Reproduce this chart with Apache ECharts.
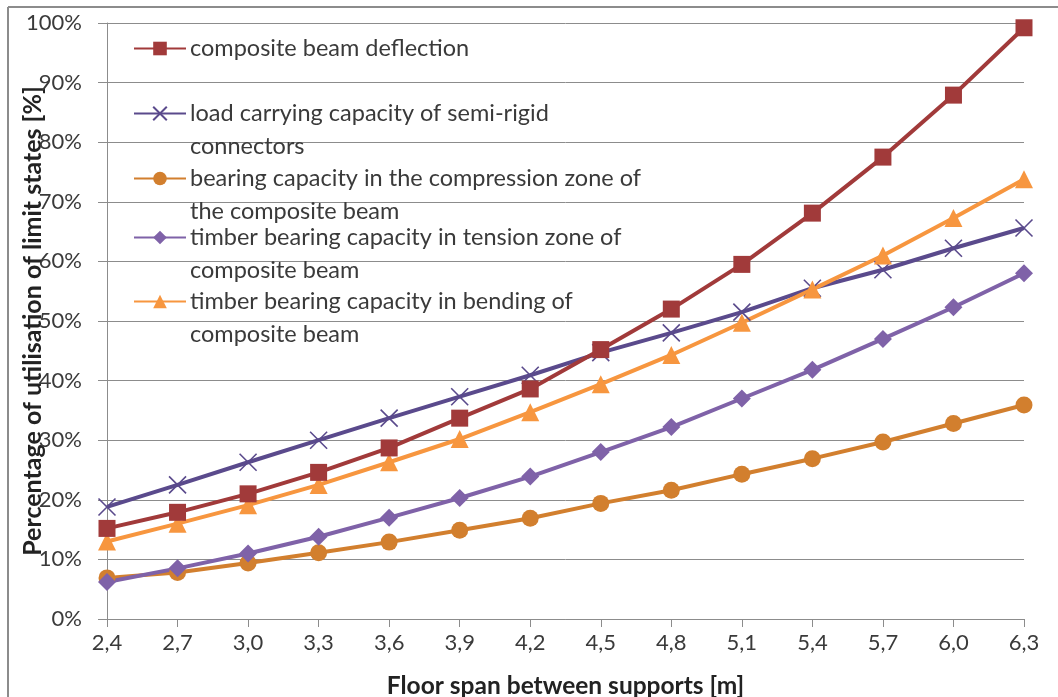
<!DOCTYPE html>
<html>
<head>
<meta charset="utf-8">
<script src="https://cdn.jsdelivr.net/npm/echarts@6/dist/echarts.min.js"></script>
<style>html,body{margin:0;padding:0;background:#fff;}#c{width:1058px;height:697px;}</style>
</head>
<body>
<div id="c"></div>
<script>
var spans = ['2,4','2,7','3,0','3,3','3,6','3,9','4,2','4,5','4,8','5,1','5,4','5,7','6,0','6,3'];
var deflection = [15.2, 17.9, 21.0, 24.6, 28.7, 33.7, 38.6, 45.2, 52.0, 59.5, 68.1, 77.5, 87.9, 99.2];
var connectors = [18.8, 22.5, 26.3, 30.0, 33.7, 37.3, 40.9, 44.7, 48.0, 51.5, 55.5, 58.6, 62.2, 65.6];
var compression = [6.9, 7.8, 9.4, 11.1, 12.9, 14.9, 16.9, 19.4, 21.6, 24.3, 26.9, 29.7, 32.8, 35.9];
var tension = [6.2, 8.5, 11.0, 13.8, 17.0, 20.3, 23.9, 28.0, 32.2, 37.0, 41.8, 47.0, 52.3, 58.0];
var bending = [13.0, 16.0, 19.1, 22.5, 26.3, 30.2, 34.7, 39.4, 44.3, 49.7, 55.3, 61.0, 67.3, 73.8];
var yTicks = [0, 10, 20, 30, 40, 50, 60, 70, 80, 90, 100];
var names = [
  'composite beam deflection',
  'load carrying capacity of semi-rigid\nconnectors',
  'bearing capacity in the compression zone of\nthe composite beam',
  'timber bearing capacity in tension zone of\ncomposite beam',
  'timber bearing capacity in bending of\ncomposite beam'
];
var colors = ['#a13a3a', '#5a4a8c', '#d27f2e', '#7f62a8', '#f7963f'];

var FONT = 'Lato';
var chart = echarts.init(document.getElementById('c'), null, {renderer: 'canvas'});
var xPath = 'path://M0,0L10,10M10,0L0,10';

function legendFor(i, top, multi) {
  return {
    data: [names[i]],
    left: 133,
    top: top,
    padding: 0,
    itemWidth: 52,
    itemHeight: 17,
    itemGap: 0,
    formatter: function (n) { return multi ? '\n' + n : n; },
    textStyle: {
      fontFamily: FONT, fontSize: 23.5, color: '#3a3a3a', lineHeight: 33,
      padding: [0, 0, 0, -1]
    }
  };
}

var option = {
  animation: false,
  backgroundColor: '#fff',
  color: colors,
  graphic: [
    {type: 'line', shape: {x1: 8, y1: 7, x2: 8, y2: 697}, style: {stroke: '#8c8c8c', lineWidth: 2}},
    {type: 'line', shape: {x1: 8, y1: 7, x2: 1058, y2: 7}, style: {stroke: '#8c8c8c', lineWidth: 2}}
  ],
  grid: {left: 107, right: 34, top: 23, bottom: 78, containLabel: false, outerBoundsMode: 'none'},
  legend: [
    legendFor(0, 32, false),
    legendFor(1, 64, true),
    legendFor(2, 129, true),
    legendFor(3, 188, true),
    legendFor(4, 252, true)
  ],
  xAxis: {
    type: 'category',
    data: spans,
    boundaryGap: false,
    name: 'Floor span between supports [m]',
    nameLocation: 'middle',
    nameGap: 55,
    nameMoveOverlap: false,
    nameTextStyle: {fontFamily: FONT, fontSize: 24.5, fontWeight: 'bold', color: '#222'},
    axisLine: {lineStyle: {color: '#8c8c8c', width: 1}},
    axisTick: {show: true, length: 8, lineStyle: {color: '#8c8c8c'}},
    axisLabel: {fontFamily: FONT, fontSize: 22, color: '#3a3a3a', margin: 13},
    splitLine: {show: false}
  },
  yAxis: {
    type: 'value',
    min: 0, max: 100, interval: 10,
    name: 'Percentage of utilisation of limit states [%]',
    nameLocation: 'middle',
    nameGap: 62,
    nameMoveOverlap: false,
    nameTextStyle: {fontFamily: FONT, fontSize: 25, fontWeight: 'bold', color: '#222'},
    axisLine: {show: true, lineStyle: {color: '#8c8c8c', width: 1}},
    axisTick: {show: true, length: 9, lineStyle: {color: '#8c8c8c'}},
    axisLabel: {fontFamily: FONT, fontSize: 22, color: '#3a3a3a', margin: 25,
      formatter: function (v) { return yTicks.indexOf(v) >= 0 ? v + '%' : ''; }},
    splitLine: {lineStyle: {color: '#8c8c8c', width: 1}}
  },
  series: [
    {name: names[0], type: 'line', data: deflection, symbol: 'rect', symbolSize: 17,
      lineStyle: {width: 4, color: colors[0]}, itemStyle: {color: colors[0]}, z: 5},
    {name: names[1], type: 'line', data: connectors, symbol: xPath, symbolSize: 17,
      lineStyle: {width: 4, color: colors[1]},
      itemStyle: {color: 'none', borderColor: colors[1], borderWidth: 1.6}, z: 4},
    {name: names[2], type: 'line', data: compression, symbol: 'circle', symbolSize: 17,
      lineStyle: {width: 4, color: colors[2]}, itemStyle: {color: colors[2]}, z: 3},
    {name: names[3], type: 'line', data: tension, symbol: 'diamond', symbolSize: 18,
      lineStyle: {width: 4, color: colors[3]}, itemStyle: {color: colors[3]}, z: 3},
    {name: names[4], type: 'line', data: bending, symbol: 'triangle', symbolSize: 18,
      lineStyle: {width: 4, color: colors[4]}, itemStyle: {color: colors[4]}, z: 4}
  ]
};
chart.setOption(option);
</script>
</body>
</html>
